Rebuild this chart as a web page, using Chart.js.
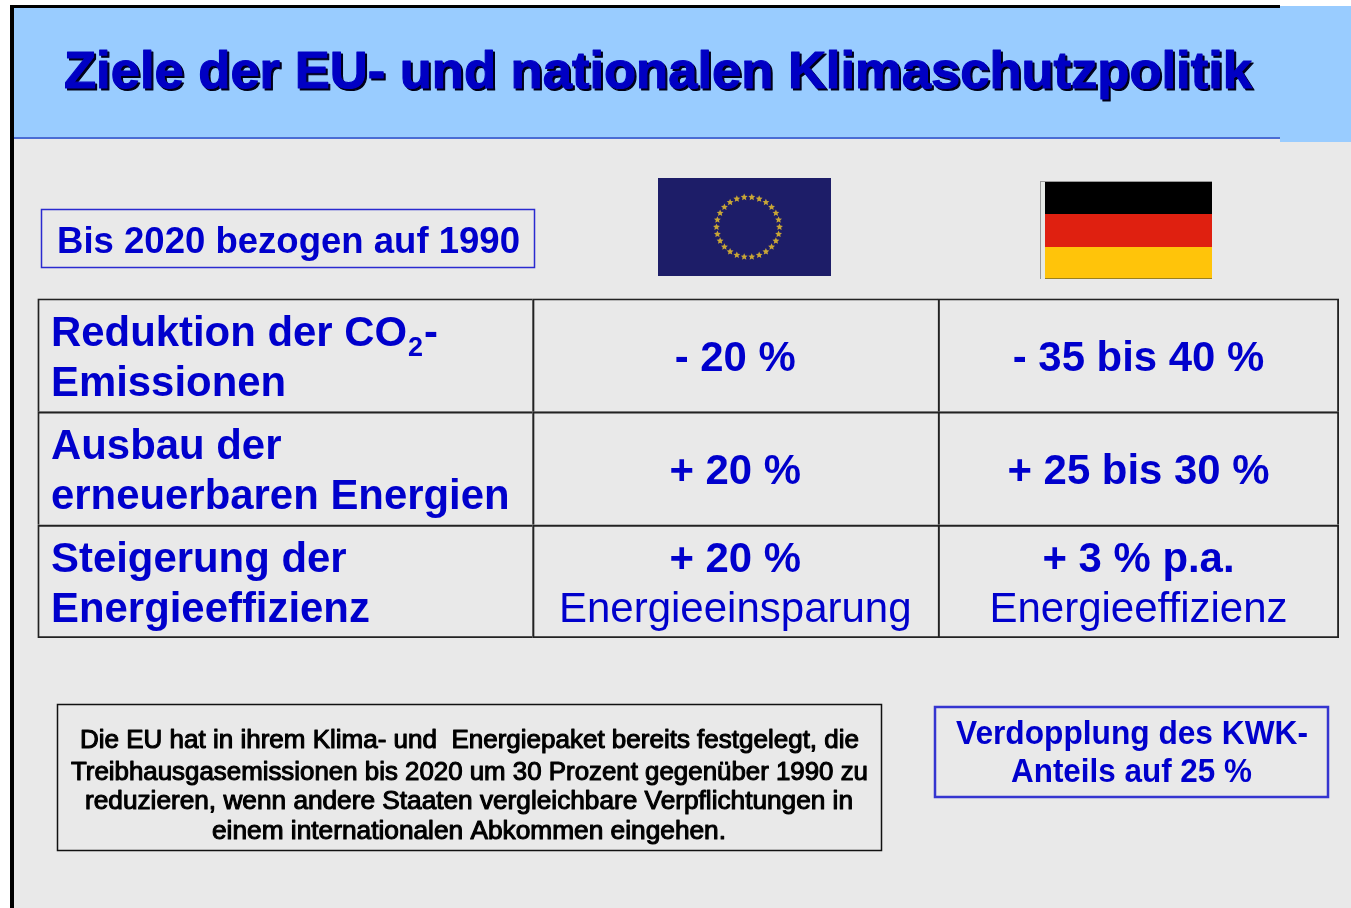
<!DOCTYPE html>
<html lang="de">
<head>
<meta charset="utf-8">
<title>Ziele der EU- und nationalen Klimaschutzpolitik</title>
<script src="https://cdn.jsdelivr.net/npm/chart.js@4"></script>
<style>
  html, body { margin: 0; padding: 0; background: #fff; overflow: hidden; }
  canvas { display: block; filter: blur(0.45px); }
</style>
</head>
<body>
<canvas id="slide" width="1351" height="908"></canvas>
<script>
const title = "Ziele der EU- und nationalen Klimaschutzpolitik";
const baseYear = "Bis 2020 bezogen auf 1990";

// table contents, one list per column
const rowLabels = [
  ["Reduktion der CO", "Emissionen"],
  ["Ausbau der", "erneuerbaren Energien"],
  ["Steigerung der", "Energieeffizienz"]
];
const euTargets = [["- 20 %"], ["+ 20 %"], ["+ 20 %", "Energieeinsparung"]];
const deTargets = [["- 35 bis 40 %"], ["+ 25 bis 30 %"], ["+ 3 % p.a.", "Energieeffizienz"]];
const tableColumns = [rowLabels, euTargets, deTargets];

// column spans of the table, each row is one stacked bar
const labelSpan = [495, 495, 495];
const euSpan = [405.5, 405.5, 405.5];
const deSpan = [401, 401, 401];

const noteLines = [
  "Die EU hat in ihrem Klima- und  Energiepaket bereits festgelegt, die",
  "Treibhausgasemissionen bis 2020 um 30 Prozent gegenüber 1990 zu",
  "reduzieren, wenn andere Staaten vergleichbare Verpflichtungen in",
  "einem internationalen Abkommen eingehen."
];
const kwkLines = ["Verdopplung des KWK-", "Anteils auf 25 %"];

const BLUE = '#0000cc';
const FONT = '"Liberation Sans", Arial, sans-serif';

// draws text squeezed to a given width, so the line ends match the slide
function fitText(ctx, text, x, y, width, font, color, stroke) {
  ctx.save();
  ctx.font = font;
  ctx.fillStyle = color;
  ctx.textAlign = 'left';
  ctx.textBaseline = 'alphabetic';
  const w = ctx.measureText(text).width;
  ctx.translate(x, y);
  ctx.scale(width / w, 1);
  ctx.fillText(text, 0, 0);
  if (stroke) {
    ctx.strokeStyle = color;
    ctx.lineWidth = stroke;
    ctx.lineJoin = 'round';
    ctx.strokeText(text, 0, 0);
  }
  ctx.restore();
}

function euFlag(ctx) {
  ctx.fillStyle = '#1d1d68';
  ctx.fillRect(658, 178, 173, 98);
  ctx.fillStyle = '#c8a636';
  for (let i = 0; i < 26; i++) {
    const a = i / 26 * Math.PI * 2;
    const cx = 748 + 31.5 * Math.cos(a), cy = 227 + 30 * Math.sin(a);
    ctx.beginPath();
    for (let k = 0; k < 10; k++) {
      const r = k % 2 ? 1.7 : 3.6;
      const b = -Math.PI / 2 + k * Math.PI / 5;
      ctx.lineTo(cx + r * Math.cos(b), cy + r * Math.sin(b));
    }
    ctx.fill();
  }
}

function deFlag(ctx) {
  ctx.fillStyle = '#999';
  ctx.fillRect(1040, 181, 172, 1);
  ctx.fillRect(1040, 181, 1, 98);
  ctx.fillStyle = '#e6e9e6';
  ctx.fillRect(1041, 182, 4, 97);
  ctx.fillStyle = '#000';
  ctx.fillRect(1045, 182, 167, 32);
  ctx.fillStyle = '#df2010';
  ctx.fillRect(1045, 214, 167, 33);
  ctx.fillStyle = '#ffc40a';
  ctx.fillRect(1045, 247, 167, 32);
  ctx.fillStyle = '#9a8020';
  ctx.fillRect(1045, 278, 167, 1);
}

const slidePlugin = {
  id: 'slide',
  beforeDraw(chart) {
    const ctx = chart.ctx;
    ctx.save();
    // page, header band and frame
    ctx.fillStyle = '#e9e9e9';
    ctx.fillRect(10, 6, 1341, 902);
    ctx.fillStyle = '#99ccff';
    ctx.fillRect(10, 6, 1270, 131);
    ctx.fillRect(1280, 6, 71, 136);
    ctx.fillStyle = '#4a6cd4';
    ctx.fillRect(14, 137, 1266, 2);
    ctx.fillStyle = '#000';
    ctx.fillRect(10, 5, 1270, 3);
    ctx.fillRect(10, 5, 4, 903);
    euFlag(ctx);
    deFlag(ctx);
    ctx.restore();
  },
  afterDraw(chart) {
    const ctx = chart.ctx;
    ctx.save();
    // title with its hard shadow
    const titleFont = 'bold 52px ' + FONT;
    fitText(ctx, title, 66, 90, 1188, titleFont, '#000018', 1.1);
    fitText(ctx, title, 64, 88, 1188, titleFont, '#0000c4', 1.1);

    // base year box
    ctx.strokeStyle = '#2a2ad0';
    ctx.lineWidth = 1.5;
    ctx.strokeRect(41.5, 209.5, 493, 58);
    fitText(ctx, baseYear, 57, 253, 463, 'bold 36.5px ' + FONT, BLUE);

    // cell texts, placed on the bars of the chart
    const boldFont = 'bold 41.9px ' + FONT;
    const thinFont = '42px ' + FONT;
    ctx.textBaseline = 'alphabetic';
    tableColumns.forEach((column, c) => {
      const bars = chart.getDatasetMeta(c).data;
      column.forEach((lines, r) => {
        const bar = bars[r];
        lines.forEach((line, k) => {
          const y = bar.y + 15.7 + (k - (lines.length - 1) / 2) * 50.5;
          ctx.fillStyle = BLUE;
          if (c === 0) {
            ctx.font = boldFont;
            ctx.textAlign = 'left';
            ctx.fillText(line, bar.base + 13.5, y);
          } else {
            ctx.font = k === 0 ? boldFont : thinFont;
            ctx.textAlign = 'center';
            ctx.fillText(line, (bar.base + bar.x) / 2, y);
          }
        });
      });
    });
    // CO2 subscript and the hyphen after it
    const first = chart.getDatasetMeta(0).data[0];
    ctx.textAlign = 'left';
    ctx.font = boldFont;
    const coEnd = first.base + 13.5 + ctx.measureText(rowLabels[0][0]).width;
    ctx.font = 'bold 27px ' + FONT;
    ctx.fillText('2', coEnd + 1, first.y + 0.5);
    ctx.font = boldFont;
    ctx.fillText('-', coEnd + 17, first.y - 9.5);

    // note box
    ctx.strokeStyle = '#111';
    ctx.lineWidth = 1.5;
    ctx.strokeRect(57.5, 704.5, 824, 146);
    const noteFont = '25px ' + FONT;
    const noteX = [80, 71, 85, 212];
    const noteW = [779, 797, 768, 514];
    const noteY = [748, 780, 809, 839];
    noteLines.forEach((line, i) => {
      fitText(ctx, line, noteX[i], noteY[i], noteW[i], noteFont, '#000', 1.05);
    });

    // KWK box
    ctx.strokeStyle = '#3535d0';
    ctx.lineWidth = 2.5;
    ctx.strokeRect(935, 707, 393, 90);
    fitText(ctx, kwkLines[0], 956, 744, 352, 'bold 33px ' + FONT, BLUE);
    fitText(ctx, kwkLines[1], 1011, 782, 241, 'bold 33px ' + FONT, BLUE);
    ctx.restore();
  }
};

// one line between neighbours: right and bottom edges only on the last cells
const cell = {
  backgroundColor: 'transparent',
  borderColor: '#222',
  borderSkipped: false,
  borderWidth: c => ({
    left: 1.5,
    top: 1.5,
    right: c.datasetIndex === 2 ? 1.5 : 0,
    bottom: c.dataIndex === 2 ? 1.5 : 0
  }),
  barPercentage: 1,
  categoryPercentage: 1
};

new Chart(document.getElementById('slide').getContext('2d'), {
  type: 'bar',
  data: {
    labels: rowLabels.map(r => r.join(' ')),
    datasets: [
      { label: 'Ziel', data: labelSpan, ...cell },
      { label: 'EU', data: euSpan, ...cell },
      { label: 'Deutschland', data: deSpan, ...cell }
    ]
  },
  options: {
    indexAxis: 'y',
    responsive: false,
    animation: false,
    layout: { padding: { left: 37.5, top: 298.5, right: 12, bottom: 270 } },
    plugins: { legend: { display: false }, tooltip: { enabled: false }, title: { display: false } },
    scales: {
      x: { stacked: true, display: false, min: 0, max: 1301.5 },
      y: { stacked: true, display: false }
    }
  },
  plugins: [slidePlugin]
});
</script>
</body>
</html>
